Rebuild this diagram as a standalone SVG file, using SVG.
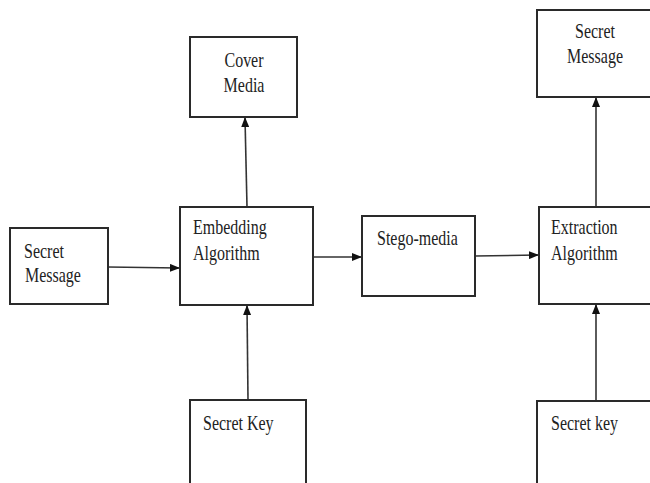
<svg xmlns="http://www.w3.org/2000/svg" width="650" height="483" viewBox="0 0 650 483">
<style>
.box{fill:#fff;stroke:#2a2a2a;stroke-width:2}
.t{font-family:"Liberation Serif","Times New Roman",serif;font-size:16px;fill:#222}
.c{text-anchor:middle}
.ln{fill:none;stroke:#333;stroke-width:1.6}
</style>
<defs>
<marker id="ah" markerWidth="10" markerHeight="8" refX="9" refY="4" orient="auto" markerUnits="userSpaceOnUse">
<path d="M0,0 L10,4 L0,8 Z" fill="#111"/>
</marker>
</defs>
<rect width="650" height="483" fill="#fff"/>
<g id="connectors">
<line class="ln" x1="108" y1="267" x2="179" y2="268" marker-end="url(#ah)"/>
<line class="ln" x1="247" y1="207" x2="245" y2="118" marker-end="url(#ah)"/>
<line class="ln" x1="248" y1="400" x2="247" y2="306" marker-end="url(#ah)"/>
<line class="ln" x1="313" y1="257" x2="361" y2="257" marker-end="url(#ah)"/>
<line class="ln" x1="475" y1="256" x2="538" y2="255" marker-end="url(#ah)"/>
<line class="ln" x1="596" y1="207" x2="596" y2="98" marker-end="url(#ah)"/>
<line class="ln" x1="596" y1="401" x2="596" y2="305" marker-end="url(#ah)"/>
</g>
<g id="secret-message-in">
<rect class="box" x="10" y="228" width="98" height="76"/>
<text class="t" transform="translate(24,258) scale(1,1.3)">Secret</text>
<text class="t" transform="translate(25,282) scale(1,1.3)">Message</text>
</g>
<g id="embedding">
<rect class="box" x="180" y="207" width="133" height="98"/>
<text class="t" transform="translate(193,234) scale(1,1.3)">Embedding</text>
<text class="t" transform="translate(193,260) scale(1,1.3)">Algorithm</text>
</g>
<g id="cover-media">
<rect class="box" x="190" y="37" width="107" height="80"/>
<text class="t c" transform="translate(244,67) scale(1,1.3)">Cover</text>
<text class="t c" transform="translate(244,92) scale(1,1.3)">Media</text>
</g>
<g id="secret-key-1">
<rect class="box" x="190" y="400" width="116" height="90"/>
<text class="t" transform="translate(203,430) scale(1,1.3)">Secret Key</text>
</g>
<g id="stego-media">
<rect class="box" x="362" y="216" width="113" height="80"/>
<text class="t" transform="translate(377,245) scale(1,1.3)">Stego-media</text>
</g>
<g id="extraction">
<rect class="box" x="539" y="207" width="120" height="97"/>
<text class="t" transform="translate(551,234) scale(1,1.3)">Extraction</text>
<text class="t" transform="translate(551,260) scale(1,1.3)">Algorithm</text>
</g>
<g id="secret-message-out">
<rect class="box" x="537" y="10" width="122" height="87"/>
<text class="t c" transform="translate(595,38) scale(1,1.3)">Secret</text>
<text class="t c" transform="translate(595,63) scale(1,1.3)">Message</text>
</g>
<g id="secret-key-2">
<rect class="box" x="537" y="401" width="122" height="90"/>
<text class="t" transform="translate(551,430) scale(1,1.3)">Secret key</text>
</g>
</svg>
